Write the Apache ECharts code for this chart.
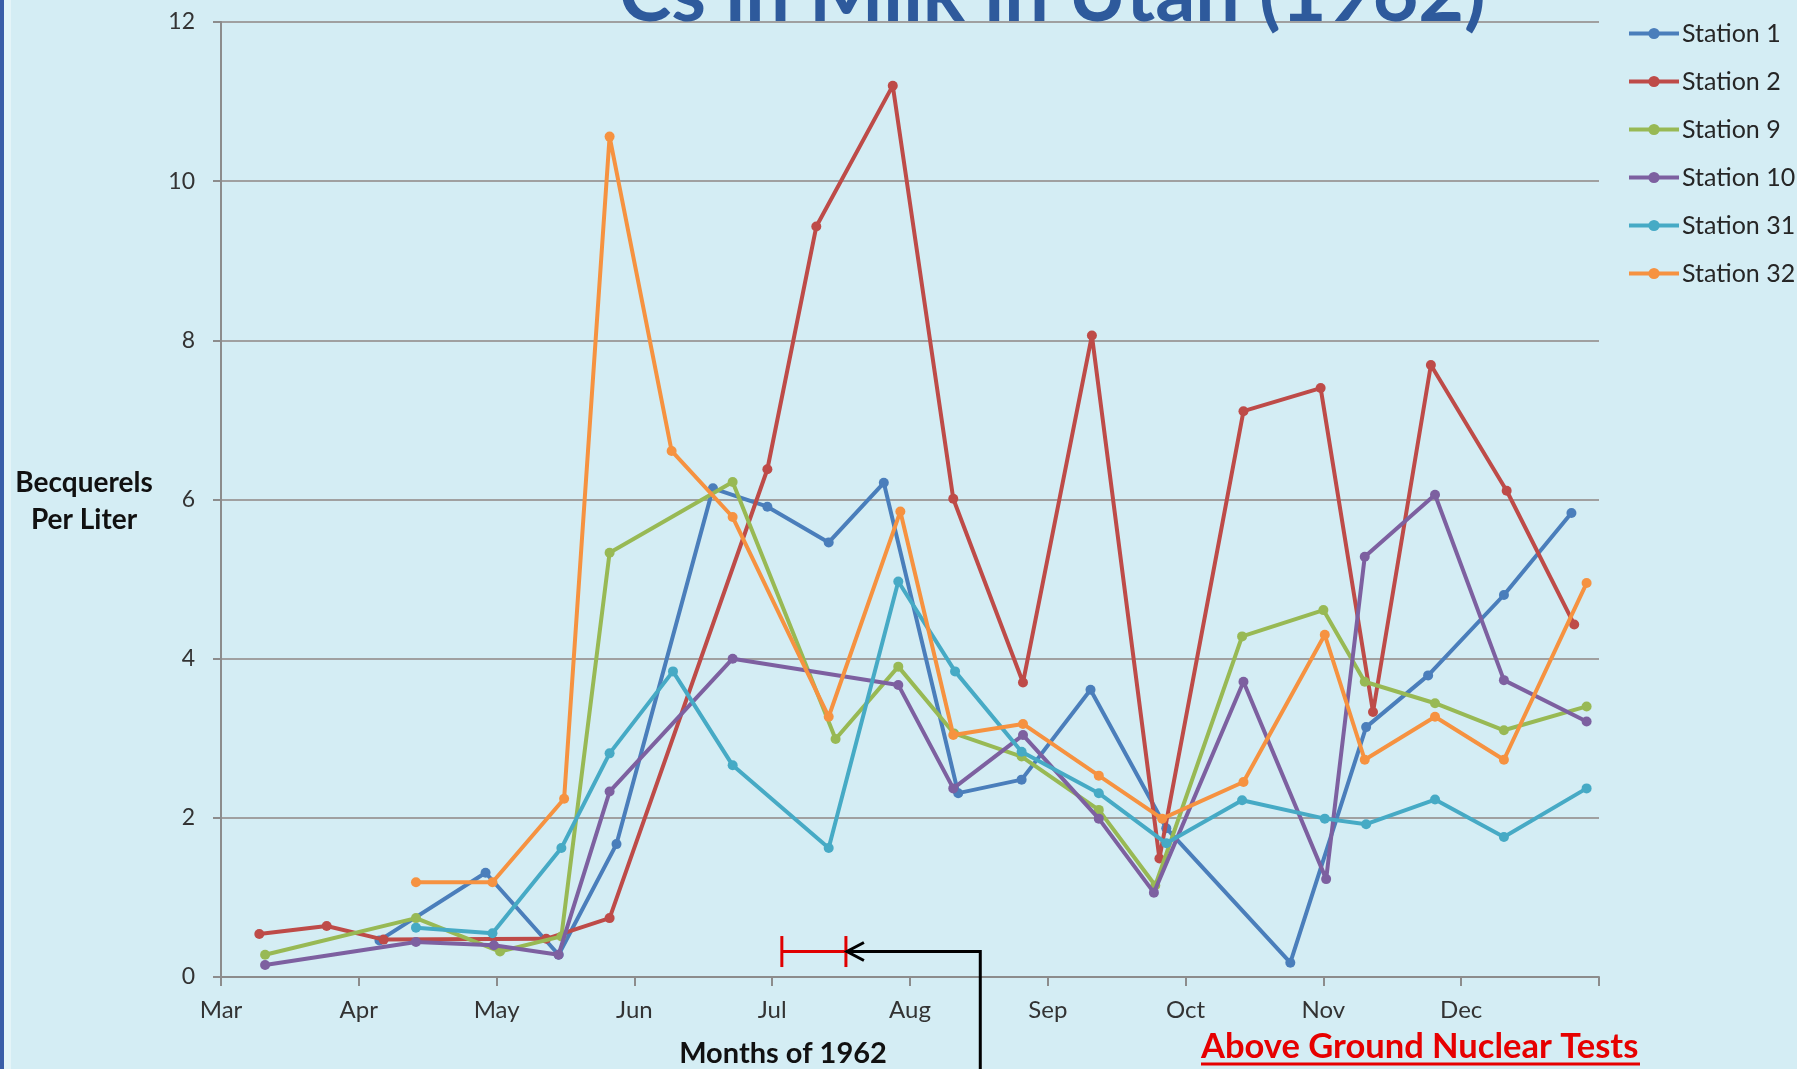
<!DOCTYPE html>
<html>
<head>
<meta charset="utf-8">
<title>Cs in Milk in Utah (1962)</title>
<script src="https://cdn.jsdelivr.net/npm/echarts@6/dist/echarts.min.js"></script>
<style>
  html, body { margin: 0; padding: 0; background: #d4edf4; }
  #chart { width: 1797px; height: 1069px; }
</style>
</head>
<body>
<div id="chart"></div>
<script>
// date axis: one tick per month, 1 Mar 1962 .. 1 Jan 1963
const months = ['Mar', 'Apr', 'May', 'Jun', 'Jul', 'Aug', 'Sep', 'Oct', 'Nov', 'Dec']

// samples as [months since 1 Mar 1962, Bq per liter]
const station1 = [
  [1.15, 0.46], [1.92, 1.31], [2.45, 0.28], [2.87, 1.67], [3.57, 6.14], [3.965, 5.91],
  [4.41, 5.46], [4.81, 6.21], [5.35, 2.31], [5.81, 2.48], [6.31, 3.61], [6.86, 1.87],
  [7.76, 0.18], [8.31, 3.14], [8.76, 3.79], [9.31, 4.80], [9.80, 5.83]
]
const station2 = [
  [0.278, 0.54], [0.767, 0.64], [1.18, 0.47], [2.36, 0.48], [2.82, 0.74], [3.965, 6.38],
  [4.32, 9.43], [4.875, 11.2], [5.314, 6.01], [5.82, 3.70], [6.32, 8.06], [6.81, 1.49],
  [7.42, 7.11], [7.98, 7.40], [8.36, 3.33], [8.78, 7.69], [9.33, 6.11], [9.82, 4.43]
]
const station9 = [
  [0.32, 0.28], [1.415, 0.74], [2.025, 0.32], [2.47, 0.51], [2.82, 5.33], [3.713, 6.22],
  [4.46, 2.99], [4.915, 3.90], [5.32, 3.06], [5.81, 2.77], [6.37, 2.10], [6.78, 1.15],
  [7.41, 4.28], [8.00, 4.61], [8.30, 3.71], [8.81, 3.44], [9.31, 3.10], [9.91, 3.40]
]
const station10 = [
  [0.32, 0.15], [1.415, 0.44], [1.98, 0.40], [2.45, 0.28], [2.82, 2.33], [3.713, 4.00],
  [4.915, 3.67], [5.314, 2.37], [5.82, 3.04], [6.37, 1.99], [6.77, 1.06], [7.42, 3.71],
  [8.02, 1.23], [8.30, 5.28], [8.81, 6.06], [9.31, 3.73], [9.91, 3.21]
]
const station31 = [
  [1.415, 0.62], [1.97, 0.55], [2.47, 1.62], [2.82, 2.81], [3.28, 3.84], [3.713, 2.66],
  [4.41, 1.62], [4.915, 4.97], [5.327, 3.84], [5.81, 2.83], [6.37, 2.31], [6.86, 1.68],
  [7.41, 2.22], [8.01, 1.99], [8.31, 1.92], [8.81, 2.23], [9.31, 1.76], [9.91, 2.37]
]
const station32 = [
  [1.415, 1.19], [1.97, 1.19], [2.49, 2.24], [2.82, 10.56], [3.27, 6.61], [3.713, 5.78],
  [4.41, 3.27], [4.93, 5.85], [5.314, 3.04], [5.82, 3.18], [6.37, 2.53], [6.83, 1.99],
  [7.42, 2.45], [8.01, 4.30], [8.30, 2.73], [8.81, 3.27], [9.31, 2.73], [9.91, 4.95]
]

const stationNames = ['Station 1', 'Station 2', 'Station 9', 'Station 10', 'Station 31', 'Station 32']
const stationData = [station1, station2, station9, station10, station31, station32]
const stationColors = ['#4a7ebb', '#be4b48', '#98b954', '#7d60a0', '#46aac5', '#f69240']

// red bracket for the test window and the bend of the black arrow (months since 1 Mar)
const testWindow = [4.07, 4.535]
const testMarkLevel = 0.32
const arrowBendX = 5.51

const FONT = 'Lato, "DejaVu Sans", sans-serif'
const chart = echarts.init(document.getElementById('chart'))

const stationSeries = stationNames.map((name, i) => ({
  name: name,
  type: 'line',
  data: stationData[i],
  symbol: 'circle',
  symbolSize: 10,
  color: stationColors[i],
  lineStyle: { width: 4 },
  emphasis: { disabled: true },
  z: 2 + i
}))

// 试验窗口
const bracketSeries = {
  name: 'tests',
  type: 'line',
  data: testWindow.map(x => [x, testMarkLevel]),
  symbol: 'rect',
  symbolSize: [3, 31],
  color: '#e00000',
  lineStyle: { width: 3 },
  silent: true,
  z: 10
}

chart.setOption({
  backgroundColor: '#d4edf4',
  animation: false,
  grid: { left: 221, right: 198, top: 22, bottom: 92 },
  legend: {
    data: stationNames,
    orient: 'vertical',
    left: 1622,
    top: 16,
    itemWidth: 50,
    itemHeight: 14,
    itemGap: 23,
    lineStyle: { width: 4 },
    textStyle: { fontFamily: FONT, fontSize: 25, color: '#262626', padding: [0, 0, 0, -2] }
  },
  xAxis: {
    type: 'value',
    min: 0,
    max: 10,
    interval: 1,
    axisLine: { show: true, lineStyle: { color: '#8c8c8c', width: 2 } },
    axisTick: { show: true, length: 9, lineStyle: { color: '#8c8c8c', width: 2 } },
    axisLabel: {
      formatter: v => months[v] || '',
      fontFamily: FONT,
      fontSize: 24,
      color: '#333',
      margin: 21
    },
    splitLine: { show: false }
  },
  yAxis: {
    type: 'value',
    min: 0,
    max: 12,
    interval: 2,
    axisLine: { show: true, lineStyle: { color: '#8c8c8c', width: 2 } },
    axisTick: { show: true, length: 8, lineStyle: { color: '#8c8c8c', width: 2 } },
    axisLabel: { fontFamily: FONT, fontSize: 23, color: '#333', margin: 26 },
    splitLine: { lineStyle: { color: '#a0a0a0', width: 2 } }
  },
  series: [...stationSeries, bracketSeries]
})

// annotations placed through the chart's own scales
const tip = chart.convertToPixel({ gridIndex: 0 }, [testWindow[1], testMarkLevel])
const bend = chart.convertToPixel({ gridIndex: 0 }, [arrowBendX, testMarkLevel])

chart.setOption({
  graphic: [
    { type: 'rect', shape: { x: 0, y: 0, width: 4, height: 1069 }, style: { fill: '#3b5ea8' } },
    { type: 'rect', shape: { x: 4, y: 0, width: 7, height: 1069 }, style: { fill: '#e4f4f8' } },
    {
      type: 'text', x: 619, y: 35,
      style: {
        text: 'Cs in Milk in Utah (1962)', fontFamily: FONT, fontWeight: 'bold', fontSize: 79,
        fill: '#2e5a9c', verticalAlign: 'bottom'
      }
    },
    {
      type: 'text', x: 84, y: 501,
      style: {
        text: 'Becquerels\nPer Liter', fontFamily: FONT, fontWeight: 'bold', fontSize: 28,
        lineHeight: 37, fill: '#111', align: 'center', verticalAlign: 'middle'
      }
    },
    {
      type: 'text', x: 783, y: 1054,
      style: {
        text: 'Months of 1962', fontFamily: FONT, fontWeight: 'bold', fontSize: 29,
        fill: '#111', align: 'center', verticalAlign: 'middle'
      }
    },
    {
      type: 'text', x: 1201, y: 1047,
      style: {
        text: 'Above Ground Nuclear Tests', fontFamily: FONT, fontWeight: 'bold', fontSize: 34.5,
        fill: '#e60000', verticalAlign: 'middle'
      }
    },
    { type: 'line', shape: { x1: 1201, y1: 1064, x2: 1640, y2: 1064 }, style: { stroke: '#e60000', lineWidth: 3 } },
    {
      type: 'polyline', z: 20,
      shape: { points: [[tip[0], tip[1]], [bend[0], bend[1]], [bend[0], 1075]] },
      style: { stroke: '#000', lineWidth: 3, fill: null }
    },
    {
      type: 'polyline', z: 20,
      shape: { points: [[tip[0] + 18, tip[1] - 9], [tip[0] + 1, tip[1]], [tip[0] + 18, tip[1] + 9]] },
      style: { stroke: '#000', lineWidth: 3, fill: null }
    }
  ]
})
</script>
</body>
</html>
